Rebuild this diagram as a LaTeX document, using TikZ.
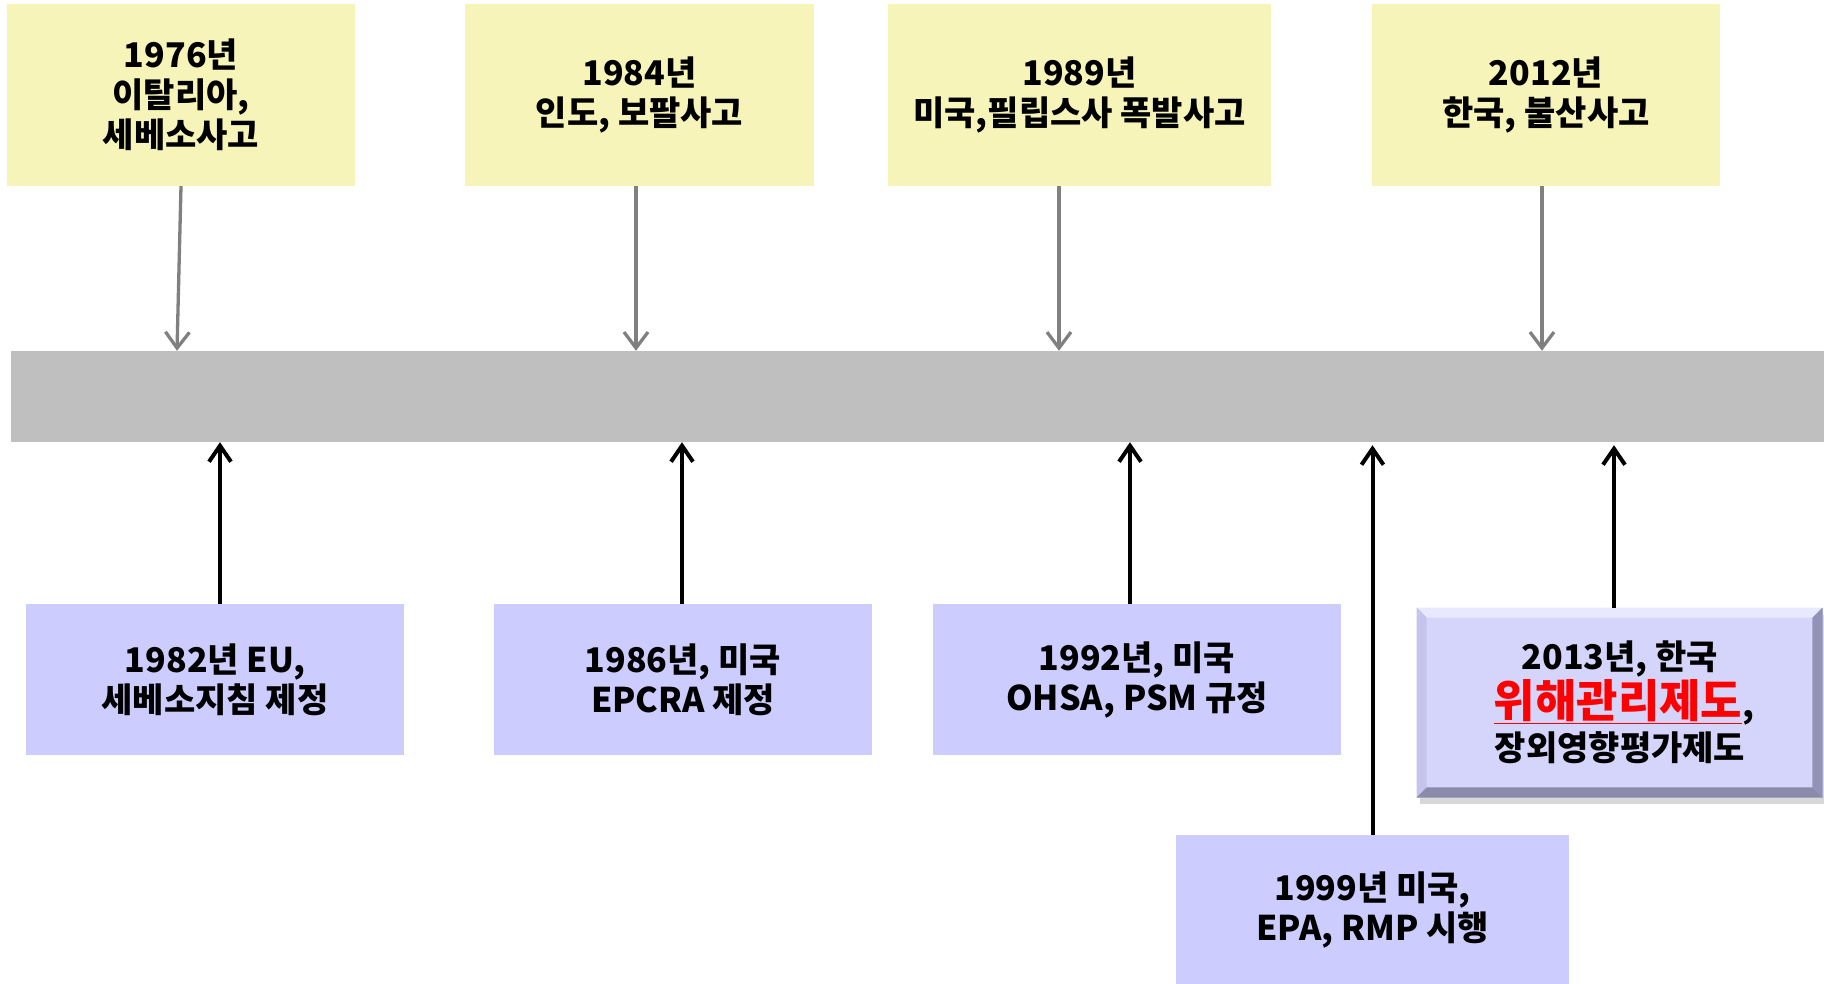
\documentclass[tikz,border=0pt]{standalone}
\usepackage{fontspec}
\setmainfont{Noto Sans CJK KR}
\usetikzlibrary{arrows.meta,calc,shadows}
\definecolor{yfill}{HTML}{F6F4B9}
\definecolor{pfill}{HTML}{CCCCFF}
\definecolor{barfill}{HTML}{BFBFBF}
\definecolor{arrgray}{HTML}{808080}
\definecolor{dface}{HTML}{D5D5FC}
\definecolor{dtop}{HTML}{E8E8FF}
\definecolor{dleft}{HTML}{C4C4EC}
\definecolor{dright}{HTML}{9292B6}
\definecolor{dbottom}{HTML}{8A8AAA}
\begin{document}
\begin{tikzpicture}[x=1pt,y=-1pt,
  txt/.style={inner sep=0pt, align=center, font=\fontsize{34}{40}\selectfont\bfseries},
  ybox/.style={txt, rectangle, fill=yfill, minimum height=182pt},
  pbox/.style={txt, rectangle, fill=pfill},
  garrow/.style={draw=arrgray, line width=3.3pt, -{Straight Barb[length=16pt,width=24pt,line width=3.3pt]}},
  barrow/.style={draw=black, line width=4pt, -{Straight Barb[length=16pt,width=22pt,line width=4pt]}}
]
\useasboundingbox (0,0) rectangle (1824,983);
% timeline bar
\node[rectangle, fill=barfill, inner sep=0pt, minimum width=1813pt, minimum height=91pt] (bar) at (917.5,396.5) {};
% top boxes
\node[ybox, minimum width=348pt] (t1) at (181,95) {1976년\\이탈리아,\\세베소사고};
\node[ybox, minimum width=349pt] (t2) at (639.5,95) {1984년\\인도, 보팔사고};
\node[ybox, minimum width=383pt] (t3) at (1079.5,95) {1989년\\미국,필립스사 폭발사고};
\node[ybox, minimum width=348pt] (t4) at (1546,95) {2012년\\한국, 불산사고};
% top arrows
\draw[garrow] (t1.south) -- ([xshift=-4pt]t1.south |- bar.north);
\draw[garrow] ([xshift=-3.5pt]t2.south) -- ([xshift=-3.5pt]t2.south |- bar.north);
\draw[garrow] ([xshift=-20.5pt]t3.south) -- ([xshift=-20.5pt]t3.south |- bar.north);
\draw[garrow] ([xshift=-4pt]t4.south) -- ([xshift=-4pt]t4.south |- bar.north);
% bottom boxes
\node[pbox, minimum width=378pt, minimum height=151pt] (b1) at (215,679.5) {1982년 EU,\\세베소지침 제정};
\node[pbox, minimum width=378pt, minimum height=151pt] (b2) at (683,679.5) {1986년, 미국\\EPCRA 제정};
\node[pbox, minimum width=408pt, minimum height=151pt] (b3) at (1137,679.5) {1992년, 미국\\OHSA, PSM 규정};
\node[pbox, minimum width=393pt, minimum height=150pt] (b5) at (1372.5,910) {1999년 미국,\\EPA, RMP 시행};
% 2013 bevelled box
\node[rectangle, inner sep=0pt, fill=dface, draw=dright!70, line width=0.8pt,
  minimum width=405pt, minimum height=189pt,
  drop shadow={shadow xshift=3pt, shadow yshift=-7pt, opacity=0.22, fill=black!70}] (b4) at (1619.5,702.5) {};
\fill[dtop] (b4.north west) -- (b4.north east) -- ($(b4.north east)+(-10,10)$) -- ($(b4.north west)+(10,10)$) -- cycle;
\fill[dleft] (b4.north west) -- ($(b4.north west)+(10,10)$) -- ($(b4.south west)+(10,-10)$) -- (b4.south west) -- cycle;
\fill[dright] (b4.north east) -- ($(b4.north east)+(-10,10)$) -- ($(b4.south east)+(-10,-10)$) -- (b4.south east) -- cycle;
\fill[dbottom] (b4.south west) -- ($(b4.south west)+(10,-10)$) -- ($(b4.south east)+(-10,-10)$) -- (b4.south east) -- cycle;
\node[txt] (b4t1) at (1620,659) {2013년, 한국};
\node[txt, text=red, font=\fontsize{45}{48}\selectfont\bfseries] (b4t2) at (1624,702) {\underline{위해관리제도}\textcolor{black}{\fontsize{34}{40}\selectfont,}};
\node[txt] (b4t3) at (1620,748) {장외영향평가제도};
% bottom arrows
\draw[barrow] ([xshift=5pt]b1.north) -- ([xshift=5pt]b1.north |- bar.south);
\draw[barrow] ([xshift=-1pt]b2.north) -- ([xshift=-1pt]b2.north |- bar.south);
\draw[barrow] ([xshift=-7pt]b3.north) -- ([xshift=-7pt]b3.north |- bar.south);
\draw[barrow] (b5.north) -- ([yshift=-3pt]b5.north |- bar.south);
\draw[barrow] ([xshift=-5.5pt]b4.north) -- ([xshift=-5.5pt,yshift=-3pt]b4.north |- bar.south);
\end{tikzpicture}
\end{document}
